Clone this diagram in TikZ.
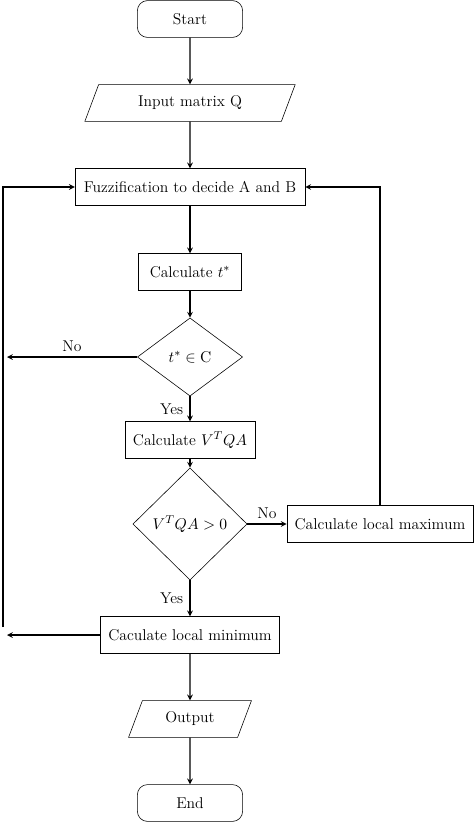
\documentclass[tikz,border=0pt]{standalone}
\usetikzlibrary{shapes.geometric}

\tikzset{
  box/.style={draw,rectangle,minimum height=0.91cm,font=\fontsize{11}{13}\selectfont},
  term/.style={box,rounded corners=0.25cm,minimum width=2.6cm},
  io/.style={draw,trapezium,trapezium left angle=70,trapezium right angle=110,trapezium stretches=true,minimum height=0.91cm,font=\fontsize{11}{13}\selectfont},
  decision/.style={draw,diamond,inner sep=1pt,font=\fontsize{11}{13}\selectfont},
  flow/.style={->,>=stealth,thick},
  lbl/.style={font=\fontsize{11}{13}\selectfont}
}

\begin{document}
\begin{tikzpicture}[x=0.0247cm,y=-0.0247cm]
\useasboundingbox (0,0) rectangle (474,823);

\node[term] (start) at (190,19) {Start};
\node[io,minimum width=5.2cm] (input) at (190,103) {Input matrix Q};
\node[box,minimum width=5.68cm] (fuzz) at (190,187) {Fuzzification to decide A and B};
\node[box,minimum width=2.55cm] (calct) at (190,272) {Calculate $t^*$};
\node[decision,minimum width=2.6cm,minimum height=1.93cm] (test1) at (190,357) {$t^*\in\mathrm{C}$};
\node[box,minimum width=3.21cm] (calcv) at (190,440) {Calculate $V^TQA$};
\node[decision,minimum width=2.82cm,minimum height=2.77cm] (test2) at (190,524) {$V^TQA>0$};
\node[box,minimum width=4.6cm] (localmax) at (380,524) {Calculate local maximum};
\node[box,minimum width=4.42cm] (localmin) at (190,635) {Caculate local minimum};
\node[io,minimum width=3.04cm] (output) at (190,719) {Output};
\node[term] (end) at (190,803) {End};

% left return line
\coordinate (noleft) at (7,357);
\coordinate (minleft) at (7,635);
\coordinate (bustop) at (3,187);
\coordinate (busbot) at (3,627);

\draw[flow] (start) -- (input);
\draw[flow] (input) -- (fuzz);
\draw[flow] (fuzz) -- (calct);
\draw[flow] (calct) -- (test1);
\draw[flow] (test1) -- node[lbl,left=1pt] {Yes} (calcv);
\draw[flow] (test1.west) -- node[lbl,above] {No} (noleft);
\draw[flow] (calcv) -- (test2);
\draw[flow] (test2) -- node[lbl,above] {No} (localmax);
\draw[flow] (test2) -- node[lbl,left=1pt] {Yes} (localmin);
\draw[flow] (localmax.north) |- (fuzz.east);
\draw[flow] (localmin.west) -- (minleft);
\draw[flow] (busbot) -- (bustop) -- (fuzz.west);
\draw[flow] (localmin) -- (output);
\draw[flow] (output) -- (end);

\end{tikzpicture}
\end{document}
